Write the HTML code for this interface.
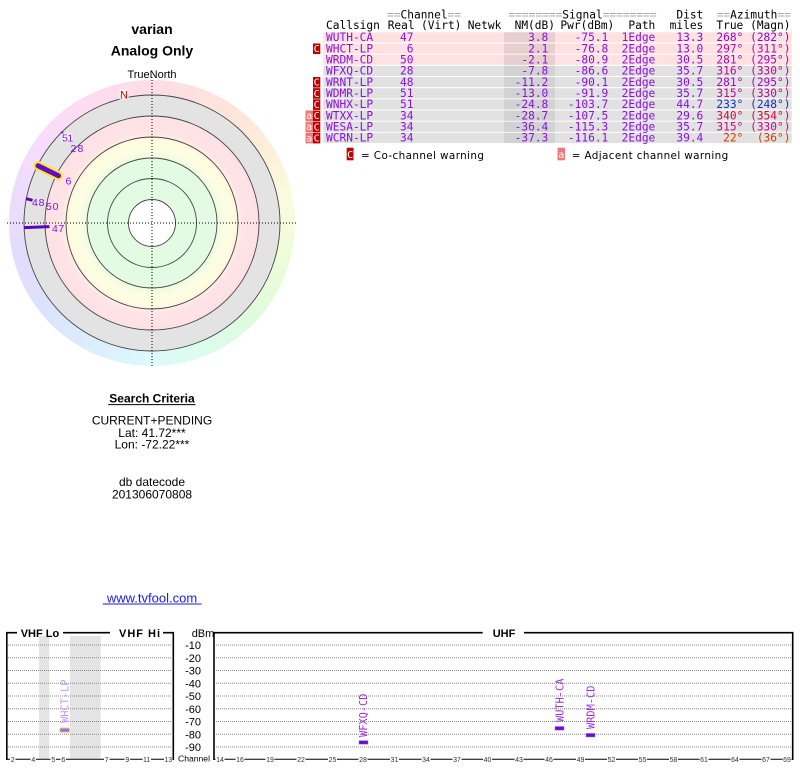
<!DOCTYPE html>
<html><head><meta charset="utf-8"><style>
html,body{margin:0;padding:0;background:#fff;}
body{width:800px;height:768px;position:relative;overflow:hidden;}
#ring{position:absolute;left:9px;top:80px;width:286px;height:286px;border-radius:50%;
background:conic-gradient(from 0deg,#fcdde6 0deg,#fde4da 35deg,#fdf0da 60deg,#fafcdc 80deg,#eefcda 105deg,#ddfcdc 135deg,#dcfcee 160deg,#dcfafc 180deg,#dceefc 205deg,#dce3fc 230deg,#e2dcfc 255deg,#ecdcfc 280deg,#f8dcfc 305deg,#fcdcf4 325deg,#fcdde6 360deg);}
svg{position:absolute;left:0;top:0;}
</style></head><body>
<div id="ring"></div>
<svg width="800" height="768" viewBox="0 0 800 768" xmlns="http://www.w3.org/2000/svg">
<defs>
<radialGradient id="rg" cx="152" cy="223" r="128" gradientUnits="userSpaceOnUse">
<stop offset="0" stop-color="#e2fbe2"/>
<stop offset="0.49" stop-color="#e2fbe2"/>
<stop offset="0.56" stop-color="#fcfde2"/>
<stop offset="0.64" stop-color="#fdfde0"/>
<stop offset="0.71" stop-color="#ffe3e6"/>
<stop offset="0.834" stop-color="#ffe1e5"/>
<stop offset="0.836" stop-color="#e3e3e3"/>
<stop offset="1" stop-color="#e3e3e3"/>
</radialGradient>
</defs>

<!-- Titles -->
<g font-family="Liberation Sans, Arial, sans-serif" text-anchor="middle" fill="#000">
<text x="152" y="34" font-size="14" font-weight="bold">varian</text>
<text x="152" y="55.5" font-size="14" font-weight="bold">Analog Only</text>
<text x="152" y="78" font-size="11">TrueNorth</text>
</g>

<!-- Radar -->
<circle cx="152" cy="223" r="128" fill="url(#rg)"/>
<circle cx="152" cy="223" r="23.5" fill="#fff"/>
<g fill="none" stroke="#444" stroke-width="0.9">
<circle cx="152" cy="223" r="23.5"/>
<circle cx="152" cy="223" r="44.5"/>
<circle cx="152" cy="223" r="65"/>
<circle cx="152" cy="223" r="86"/>
<circle cx="152" cy="223" r="107"/>
<circle cx="152" cy="223" r="128"/>
</g>
<g stroke="#000" stroke-width="1" stroke-dasharray="1 2">
<line x1="152" y1="77" x2="152" y2="368"/>
<line x1="7" y1="223" x2="297" y2="223"/>
</g>
<rect x="119.5" y="89.5" width="9" height="10" fill="#fff" opacity="0.8"/>
<text x="124" y="98.3" font-family="Liberation Sans, Arial, sans-serif" font-size="11" fill="#e00000" text-anchor="middle">N</text>

<!-- markers -->
<line x1="24.1" y1="227.6" x2="49.5" y2="226.6" stroke="#5a06b8" stroke-width="3"/>
<line x1="26" y1="198.6" x2="32.5" y2="200.3" stroke="#5a06b8" stroke-width="3"/>
<line x1="38" y1="165.8" x2="58.5" y2="175.8" stroke="#f4ec20" stroke-width="9" stroke-linecap="round"/>
<line x1="38" y1="165.8" x2="58.5" y2="175.8" stroke="#6a08c8" stroke-width="5" stroke-linecap="round"/>
<line x1="61" y1="132" x2="63.5" y2="134" stroke="#5a06b8" stroke-width="2"/>
<g font-family="Liberation Sans, Arial, sans-serif" font-size="10.5" fill="#8a10e0">
<rect x="61.5" y="133" width="11" height="9" fill="#fff" opacity="0.7"/>
<text x="62" y="141.5" letter-spacing="-0.5">51</text>
<text x="70.5" y="152" letter-spacing="1.2">28</text>
<text x="65.5" y="184.5">6</text>
<text x="32" y="206" letter-spacing="0.8">48</text>
<text x="46" y="210" letter-spacing="0.8">50</text>
<text x="52" y="232" letter-spacing="0.5">47</text>
</g>

<!-- Table -->
<g>
<rect x="323.3" y="32.3" width="468.4" height="10.2" fill="#ffe1e1"/>
<rect x="323.3" y="43.47" width="468.4" height="10.2" fill="#ffe1e1"/>
<rect x="323.3" y="54.64" width="468.4" height="10.2" fill="#ffe1e1"/>
<rect x="323.3" y="65.81" width="468.4" height="10.2" fill="#e1e1e1"/>
<rect x="323.3" y="76.98" width="468.4" height="10.2" fill="#e1e1e1"/>
<rect x="323.3" y="88.15" width="468.4" height="10.2" fill="#e1e1e1"/>
<rect x="323.3" y="99.32" width="468.4" height="10.2" fill="#e1e1e1"/>
<rect x="323.3" y="110.49" width="468.4" height="10.2" fill="#e1e1e1"/>
<rect x="323.3" y="121.66" width="468.4" height="10.2" fill="#e1e1e1"/>
<rect x="323.3" y="132.83" width="468.4" height="10.2" fill="#e1e1e1"/>
<rect x="504" y="32.3" width="51" height="10.2" fill="#e8cfcf"/>
<rect x="504" y="43.47" width="51" height="10.2" fill="#e8cfcf"/>
<rect x="504" y="54.64" width="51" height="10.2" fill="#e8cfcf"/>
<rect x="504" y="65.81" width="51" height="10.2" fill="#d2d2d2"/>
<rect x="504" y="76.98" width="51" height="10.2" fill="#d2d2d2"/>
<rect x="504" y="88.15" width="51" height="10.2" fill="#d2d2d2"/>
<rect x="504" y="99.32" width="51" height="10.2" fill="#d2d2d2"/>
<rect x="504" y="110.49" width="51" height="10.2" fill="#d2d2d2"/>
<rect x="504" y="121.66" width="51" height="10.2" fill="#d2d2d2"/>
<rect x="504" y="132.83" width="51" height="10.2" fill="#d2d2d2"/>
</g>
<!-- badges -->
<g font-family="DejaVu Sans Mono, monospace" font-size="10" text-anchor="middle" fill="#fff">
<rect x="305.5" y="110.49" width="7.5" height="10.6" fill="#f07878"/>
<rect x="305.5" y="121.66" width="7.5" height="10.6" fill="#f07878"/>
<rect x="305.5" y="132.83" width="7.5" height="10.6" fill="#f07878"/>
<text x="309.3" y="119">a</text><text x="309.3" y="130.2">a</text><text x="309.3" y="141.4">a</text>
<rect x="313" y="43.47" width="7.3" height="10.6" fill="#c00000"/>
<rect x="313" y="76.98" width="7.3" height="10.6" fill="#c00000"/>
<rect x="313" y="88.15" width="7.3" height="10.6" fill="#c00000"/>
<rect x="313" y="99.32" width="7.3" height="10.6" fill="#c00000"/>
<rect x="313" y="110.49" width="7.3" height="10.6" fill="#c00000"/>
<rect x="313" y="121.66" width="7.3" height="10.6" fill="#c00000"/>
<rect x="313" y="132.83" width="7.3" height="10.6" fill="#c00000"/>
<text x="316.7" y="52.2">C</text><text x="316.7" y="85.7">C</text><text x="316.7" y="96.9">C</text><text x="316.7" y="108.1">C</text><text x="316.7" y="119.2">C</text><text x="316.7" y="130.4">C</text><text x="316.7" y="141.6">C</text>
<rect x="346.7" y="147.7" width="6.8" height="12.6" fill="#c00000"/>
<text x="350.1" y="157.8">C</text>
<rect x="557.5" y="147.7" width="7.5" height="12.6" fill="#f07878"/>
<text x="561.3" y="157.8">a</text>
</g>
<g font-family="DejaVu Sans, Verdana, sans-serif" font-size="10.4" fill="#000">
<text x="361" y="159" textLength="123" lengthAdjust="spacing">= Co-channel warning</text>
<text x="571.7" y="159" textLength="156.5" lengthAdjust="spacing">= Adjacent channel warning</text>
</g>

<g font-family="DejaVu Sans Mono, monospace" font-size="11.2" fill="#000">
<!-- header line 1 -->
<text x="387" y="18.4"><tspan fill="#a8a8a8">==</tspan>Channel<tspan fill="#a8a8a8">==</tspan></text>
<text x="508.4" y="18.4"><tspan fill="#a8a8a8">========</tspan>Signal<tspan fill="#a8a8a8">========</tspan></text>
<text x="703.3" y="18.4" text-anchor="end">Dist</text>
<text x="716.7" y="18.4"><tspan fill="#a8a8a8">==</tspan>Azimuth<tspan fill="#a8a8a8">==</tspan></text>
<!-- header line 2 -->
<text x="326" y="29">Callsign</text>
<text x="387.7" y="29">Real</text>
<text x="421" y="29">(Virt)</text>
<text x="467.7" y="29">Netwk</text>
<text x="555" y="29" text-anchor="end">NM(dB)</text>
<text x="614.3" y="29" text-anchor="end">Pwr(dBm)</text>
<text x="655.3" y="29" text-anchor="end">Path</text>
<text x="703.3" y="29" text-anchor="end">miles</text>
<text x="743.3" y="29" text-anchor="end">True</text>
<text x="790.5" y="29" text-anchor="end">(Magn)</text>
</g>

<g font-family="DejaVu Sans Mono, monospace" font-size="11.2" fill="#8a10e0">
<g text-anchor="start">
<text x="326" y="41.2">WUTH-CA</text>
<text x="326" y="52.37">WHCT-LP</text>
<text x="326" y="63.54">WRDM-CD</text>
<text x="326" y="74.71">WFXQ-CD</text>
<text x="326" y="85.88">WRNT-LP</text>
<text x="326" y="97.05">WDMR-LP</text>
<text x="326" y="108.22">WNHX-LP</text>
<text x="326" y="119.39">WTXX-LP</text>
<text x="326" y="130.56">WESA-LP</text>
<text x="326" y="141.73">WCRN-LP</text>
</g>
<g text-anchor="end">
<text x="413.5" y="41.2">47</text>
<text x="413.5" y="52.37">6</text>
<text x="413.5" y="63.54">50</text>
<text x="413.5" y="74.71">28</text>
<text x="413.5" y="85.88">48</text>
<text x="413.5" y="97.05">51</text>
<text x="413.5" y="108.22">51</text>
<text x="413.5" y="119.39">34</text>
<text x="413.5" y="130.56">34</text>
<text x="413.5" y="141.73">34</text>

<text x="548.3" y="41.2">3.8</text>
<text x="548.3" y="52.37">2.1</text>
<text x="548.3" y="63.54">-2.1</text>
<text x="548.3" y="74.71">-7.8</text>
<text x="548.3" y="85.88">-11.2</text>
<text x="548.3" y="97.05">-13.0</text>
<text x="548.3" y="108.22">-24.8</text>
<text x="548.3" y="119.39">-28.7</text>
<text x="548.3" y="130.56">-36.4</text>
<text x="548.3" y="141.73">-37.3</text>

<text x="608.3" y="41.2">-75.1</text>
<text x="608.3" y="52.37">-76.8</text>
<text x="608.3" y="63.54">-80.9</text>
<text x="608.3" y="74.71">-86.6</text>
<text x="608.3" y="85.88">-90.1</text>
<text x="608.3" y="97.05">-91.9</text>
<text x="608.3" y="108.22">-103.7</text>
<text x="608.3" y="119.39">-107.5</text>
<text x="608.3" y="130.56">-115.3</text>
<text x="608.3" y="141.73">-116.1</text>

<text x="655.3" y="41.2">1Edge</text>
<text x="655.3" y="52.37">2Edge</text>
<text x="655.3" y="63.54">2Edge</text>
<text x="655.3" y="74.71">2Edge</text>
<text x="655.3" y="85.88">2Edge</text>
<text x="655.3" y="97.05">2Edge</text>
<text x="655.3" y="108.22">2Edge</text>
<text x="655.3" y="119.39">2Edge</text>
<text x="655.3" y="130.56">2Edge</text>
<text x="655.3" y="141.73">2Edge</text>

<text x="703.3" y="41.2">13.3</text>
<text x="703.3" y="52.37">13.0</text>
<text x="703.3" y="63.54">30.5</text>
<text x="703.3" y="74.71">35.7</text>
<text x="703.3" y="85.88">30.5</text>
<text x="703.3" y="97.05">35.7</text>
<text x="703.3" y="108.22">44.7</text>
<text x="703.3" y="119.39">29.6</text>
<text x="703.3" y="130.56">35.7</text>
<text x="703.3" y="141.73">39.4</text>

<g fill="#8a08d0"><text x="743.3" y="41.2">268°</text><text x="790.5" y="41.2">(282°)</text></g>
<g fill="#b808a8"><text x="743.3" y="52.37">297°</text><text x="790.5" y="52.37">(311°)</text></g>
<g fill="#a608c0"><text x="743.3" y="63.54">281°</text><text x="790.5" y="63.54">(295°)</text></g>
<g fill="#c00890"><text x="743.3" y="74.71">316°</text><text x="790.5" y="74.71">(330°)</text></g>
<g fill="#a608c0"><text x="743.3" y="85.88">281°</text><text x="790.5" y="85.88">(295°)</text></g>
<g fill="#c00890"><text x="743.3" y="97.05">315°</text><text x="790.5" y="97.05">(330°)</text></g>
<g fill="#1830c0"><text x="743.3" y="108.22">233°</text><text x="790.5" y="108.22">(248°)</text></g>
<g fill="#d00848"><text x="743.3" y="119.39">340°</text><text x="790.5" y="119.39">(354°)</text></g>
<g fill="#c00890"><text x="743.3" y="130.56">315°</text><text x="790.5" y="130.56">(330°)</text></g>
<g fill="#d83a00"><text x="743.3" y="141.73">22°</text><text x="790.5" y="141.73">(36°)</text></g>
</g>
</g>

<!-- Search criteria -->
<g font-family="Liberation Sans, Arial, sans-serif" font-size="12" text-anchor="middle" fill="#000">
<text x="152" y="402.6" font-weight="bold">Search Criteria</text>
<line x1="108.3" y1="404.6" x2="195.5" y2="404.6" stroke="#000" stroke-width="1"/>
<text x="152" y="424.3">CURRENT+PENDING</text>
<text x="152" y="437">Lat: 41.72***</text>
<text x="152" y="448.5">Lon: -72.22***</text>
<text x="152" y="486">db datecode</text>
<text x="152" y="498.3">201306070808</text>
<text x="152" y="602.3" font-size="13" fill="#1a1ae6">www.tvfool.com</text>
<line x1="102.7" y1="604" x2="201.7" y2="604" stroke="#1a1ae6" stroke-width="1"/>
</g>

<!-- Bottom chart: VHF -->
<rect x="39" y="636" width="10.3" height="122.5" fill="#e4e4e4"/>
<rect x="70" y="636" width="30.7" height="122.5" fill="#e4e4e4"/>
<g stroke="#888" stroke-width="1" stroke-dasharray="1 1">
<line x1="8" y1="645" x2="172" y2="645"/>
<line x1="8" y1="657.75" x2="172" y2="657.75"/>
<line x1="8" y1="670.5" x2="172" y2="670.5"/>
<line x1="8" y1="683.25" x2="172" y2="683.25"/>
<line x1="8" y1="696" x2="172" y2="696"/>
<line x1="8" y1="708.75" x2="172" y2="708.75"/>
<line x1="8" y1="721.5" x2="172" y2="721.5"/>
<line x1="8" y1="734.25" x2="172" y2="734.25"/>
<line x1="8" y1="747" x2="172" y2="747"/>
<line x1="216" y1="645" x2="792" y2="645"/>
<line x1="216" y1="657.75" x2="792" y2="657.75"/>
<line x1="216" y1="670.5" x2="792" y2="670.5"/>
<line x1="216" y1="683.25" x2="792" y2="683.25"/>
<line x1="216" y1="696" x2="792" y2="696"/>
<line x1="216" y1="708.75" x2="792" y2="708.75"/>
<line x1="216" y1="721.5" x2="792" y2="721.5"/>
<line x1="216" y1="734.25" x2="792" y2="734.25"/>
<line x1="216" y1="747" x2="792" y2="747"/>
</g>
<g stroke="#000" stroke-width="1.6" fill="none">
<polyline points="6.8,760 6.8,632.7 17,632.7"/>
<line x1="63" y1="632.7" x2="110" y2="632.7"/>
<polyline points="163,632.7 173.3,632.7 173.3,760"/>
<polyline points="214,760 214,632.7 482.7,632.7"/>
<polyline points="524,632.7 792.7,632.7 792.7,760"/>
</g>
<g stroke="#000" stroke-width="1">
<line x1="6.8" y1="759.3" x2="173.3" y2="759.3"/>
<line x1="214" y1="759.3" x2="792.7" y2="759.3"/>
</g>
<g font-family="Liberation Sans, Arial, sans-serif" font-weight="bold" font-size="11" fill="#000">
<text x="20.7" y="636.8">VHF Lo</text>
<text x="119" y="636.8" textLength="41" lengthAdjust="spacing">VHF Hi</text>
<text x="492.7" y="636.8">UHF</text>
</g>
<g font-family="Liberation Sans, Arial, sans-serif" font-size="11" fill="#000" text-anchor="end">
<text x="203" y="636.8" text-anchor="middle">dBm</text>
<text x="201" y="649">-10</text>
<text x="201" y="661.75">-20</text>
<text x="201" y="674.5">-30</text>
<text x="201" y="687.25">-40</text>
<text x="201" y="700">-50</text>
<text x="201" y="712.75">-60</text>
<text x="201" y="725.5">-70</text>
<text x="201" y="738.25">-80</text>
<text x="201" y="751">-90</text>
</g>
<text x="194" y="761.3" font-family="Liberation Sans, Arial, sans-serif" font-size="8.6" text-anchor="middle" fill="#000">Channel</text>
<!-- channel tick labels -->
<g font-family="Liberation Sans, Arial, sans-serif" font-size="7" text-anchor="middle" fill="#333">
<g fill="#fff">
<rect x="10" y="755" width="5.5" height="8"/><rect x="30.5" y="755" width="5.5" height="8"/><rect x="50.5" y="755" width="5.5" height="8"/><rect x="60.5" y="755" width="5.5" height="8"/><rect x="104" y="755" width="5.5" height="8"/><rect x="124.5" y="755" width="5.5" height="8"/><rect x="142.5" y="755" width="8.5" height="8"/><rect x="164" y="755" width="8.5" height="8"/>
<rect x="215.5" y="755" width="9" height="8"/><rect x="235.5" y="755" width="9" height="8"/><rect x="265.5" y="755" width="9" height="8"/><rect x="296.5" y="755" width="9" height="8"/><rect x="328" y="755" width="9" height="8"/><rect x="358.5" y="755" width="9" height="8"/><rect x="390" y="755" width="9" height="8"/><rect x="421.5" y="755" width="9" height="8"/><rect x="452.5" y="755" width="9" height="8"/><rect x="483" y="755" width="9" height="8"/><rect x="514.5" y="755" width="9" height="8"/><rect x="544.5" y="755" width="9" height="8"/><rect x="576" y="755" width="9" height="8"/><rect x="607" y="755" width="9" height="8"/><rect x="638" y="755" width="9" height="8"/><rect x="669" y="755" width="9" height="8"/><rect x="699.5" y="755" width="9" height="8"/><rect x="730.5" y="755" width="9" height="8"/><rect x="761.5" y="755" width="9" height="8"/><rect x="782.5" y="755" width="9" height="8"/>
</g>
<text x="12.7" y="761.8">2</text><text x="33.3" y="761.8">4</text><text x="53.3" y="761.8">5</text><text x="63.3" y="761.8">6</text><text x="106.7" y="761.8">7</text><text x="127.3" y="761.8">9</text><text x="146.7" y="761.8">11</text><text x="168.3" y="761.8">13</text>
<text x="220" y="761.8">14</text><text x="240" y="761.8">16</text><text x="270" y="761.8">19</text><text x="301" y="761.8">22</text><text x="332.5" y="761.8">25</text><text x="363" y="761.8">28</text><text x="394.5" y="761.8">31</text><text x="426" y="761.8">34</text><text x="457" y="761.8">37</text><text x="487.5" y="761.8">40</text><text x="519" y="761.8">43</text><text x="549" y="761.8">46</text><text x="580.5" y="761.8">49</text><text x="611.5" y="761.8">52</text><text x="642.5" y="761.8">55</text><text x="673.5" y="761.8">58</text><text x="704" y="761.8">61</text><text x="735" y="761.8">64</text><text x="766" y="761.8">67</text><text x="787" y="761.8">69</text>
</g>

<!-- station bars -->
<rect x="58.5" y="727" width="12" height="6.4" rx="3" fill="#f4f080"/>
<rect x="60.2" y="728.4" width="9" height="3.4" fill="#a868ec"/>
<rect x="359" y="740.6" width="9" height="3.6" fill="#6a0fc8" stroke="#a070e0" stroke-width="0.5"/>
<rect x="555" y="726.5" width="9" height="3.6" fill="#6a0fc8" stroke="#a070e0" stroke-width="0.5"/>
<rect x="586" y="733.4" width="9" height="3.6" fill="#6a0fc8" stroke="#a070e0" stroke-width="0.5"/>
<g font-family="DejaVu Sans Mono, monospace" font-size="10.3">
<text transform="translate(68.3,723) rotate(-90)" fill="#c89af2">WHCT-LP</text>
<text transform="translate(367,737) rotate(-90)" fill="#9a30e0">WFXQ-CD</text>
<text transform="translate(563.3,722) rotate(-90)" fill="#9a30e0">WUTH-CA</text>
<text transform="translate(594.3,729) rotate(-90)" fill="#9a30e0">WRDM-CD</text>
</g>
</svg>
</body></html>
